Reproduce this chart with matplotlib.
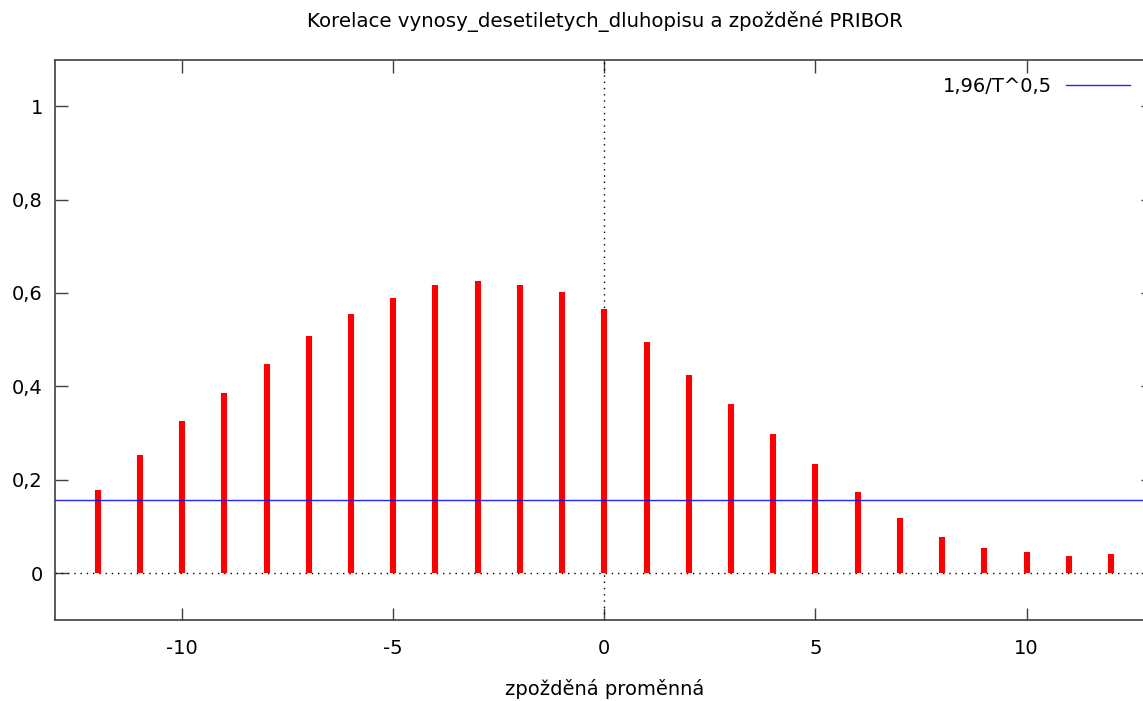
import numpy as np
import matplotlib.pyplot as plt
from matplotlib.ticker import FuncFormatter

plt.rcParams["axes.unicode_minus"] = False

# cross-correlation of bond yields with lagged PRIBOR
lags = list(range(-12, 13))
corr = [0.178, 0.253, 0.325, 0.385, 0.448, 0.508, 0.554, 0.590, 0.616, 0.626,
        0.618, 0.603, 0.565, 0.495, 0.425, 0.363, 0.298, 0.233, 0.173, 0.118,
        0.078, 0.053, 0.044, 0.036, 0.041]
crit = 0.1556  # 1,96/sqrt(T)

title = "Korelace vynosy_desetiletych_dluhopisu a zpožděné PRIBOR"
xlabel = "zpožděná proměnná"
legend_label = "1,96/T^0,5"

fig = plt.figure(figsize=(11.43, 7.01), dpi=100)
ax = fig.add_axes([0.0485, 0.116, 0.9604, 0.799])

ax.vlines(lags, 0, corr, colors="#ff0000", linewidth=4.4, zorder=3)
ax.axhline(crit, color="#0000ff", linewidth=1.0, alpha=0.85, label=legend_label, zorder=4)

# zero axes drawn as fine dotted lines
ax.axhline(0, color="black", linewidth=1.0, linestyle=(0, (1, 3.5)), zorder=2)
ax.axvline(0, color="black", linewidth=1.0, linestyle=(0, (1, 3.5)), zorder=2)

ax.set_xlim(-13, 13)
ax.set_ylim(-0.1, 1.1)
ax.set_xticks([-10, -5, 0, 5, 10])
ax.set_yticks([0, 0.2, 0.4, 0.6, 0.8, 1.0])
ax.yaxis.set_major_formatter(FuncFormatter(lambda v, p: f"{v:g}".replace(".", ",")))
ax.tick_params(direction="in", length=9, width=1, top=True, right=True,
               labelsize=14, colors="#404040", labelcolor="black")
ax.tick_params(axis="x", pad=14)
ax.tick_params(axis="y", pad=9)
for s in ax.spines.values():
    s.set_color("#404040")
    s.set_linewidth(1.2)

ax.set_xlabel(xlabel, fontsize=14, labelpad=15)
fig.text(0.5295, 0.969, title, ha="center", va="center", fontsize=14.2)

leg = ax.legend(loc="upper right", bbox_to_anchor=(0.995, 1.001), frameon=False,
                fontsize=14, markerfirst=False, handlelength=3.3, handletextpad=0.7)

fig.savefig("out.png", dpi=100)
